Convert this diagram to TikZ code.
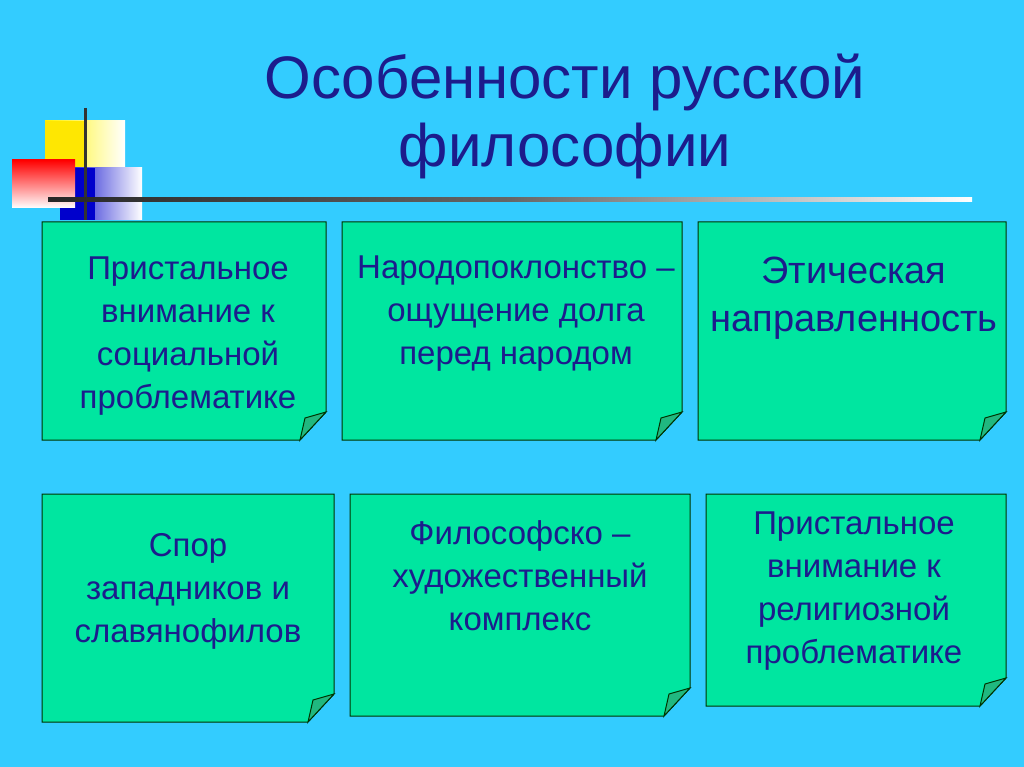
\documentclass[tikz,border=0pt]{standalone}
\usepackage{fontspec}
\setmainfont{Liberation Sans}
\definecolor{bg}{HTML}{33CCFF}
\definecolor{boxg}{HTML}{00E6A0}
\definecolor{foldg}{HTML}{20B880}
\definecolor{txt}{HTML}{1C1C8C}
\newcommand{\mycard}[4]{%
 \draw[card] (#1,#2) -- (#3,#2) -- (#3,#4-28) -- (#3-26,#4) -- (#1,#4) -- cycle;
 \draw[fold] (#3,#4-28) -- (#3-21,#4-22) -- (#3-26,#4) -- cycle;}
\begin{document}
\begin{tikzpicture}[x=1pt,y=-1pt,
  card/.style={draw=black!80!green, line width=1pt, fill=boxg},
  fold/.style={draw=black!80!green, line width=1pt, fill=foldg},
  btext/.style={text=txt, align=center, font=\fontsize{33}{43}\selectfont}]
\fill[bg] (0,0) rectangle (1024,767);
\useasboundingbox (0,0) rectangle (1024,767);
% decoration
\shade[left color=yellow!90!orange, right color=white] (45,121) rectangle (125,168);
\fill[yellow!90!orange] (45,121) rectangle (85,168);
\shade[left color=blue!80!black, right color=white] (60,168) rectangle (142,220);
\fill[blue!80!black] (60,168) rectangle (95,220);
\shade[shading angle=135, top color=red, bottom color=white] (12,160) rectangle (75,208);
\draw[line width=3pt, black!80] (85,108) -- (85,220);
\shade[left color=black!85, right color=white, middle color=black!60] (48,198) rectangle (972,202);
% title
\node[text=txt, align=center, font=\fontsize{60}{68}\selectfont] (title) at (565,116) {Особенности русской\\философии};
% cards
\mycard{42}{222}{326}{440}
\node[btext] (t1) at (188,336) {Пристальное\\внимание к\\социальной\\проблематике};
\mycard{342}{222}{682}{440}
\node[btext] (t2) at (516,314) {Народопоклонство –\\ощущение долга\\перед народом};
\mycard{698}{222}{1006}{440}
\node[btext, font=\fontsize{38}{48}\selectfont] (t3) at (854,298) {Этическая\\направленность};
\mycard{42}{494}{334}{722}
\node[btext] (t4) at (188,591) {Спор\\западников и\\славянофилов};
\mycard{350}{494}{690}{716}
\node[btext] (t5) at (520,576) {Философско –\\художественный\\комплекс};
\mycard{706}{494}{1006}{706}
\node[btext] (t6) at (854,591) {Пристальное\\внимание к\\религиозной\\проблематике};
\end{tikzpicture}
\end{document}
